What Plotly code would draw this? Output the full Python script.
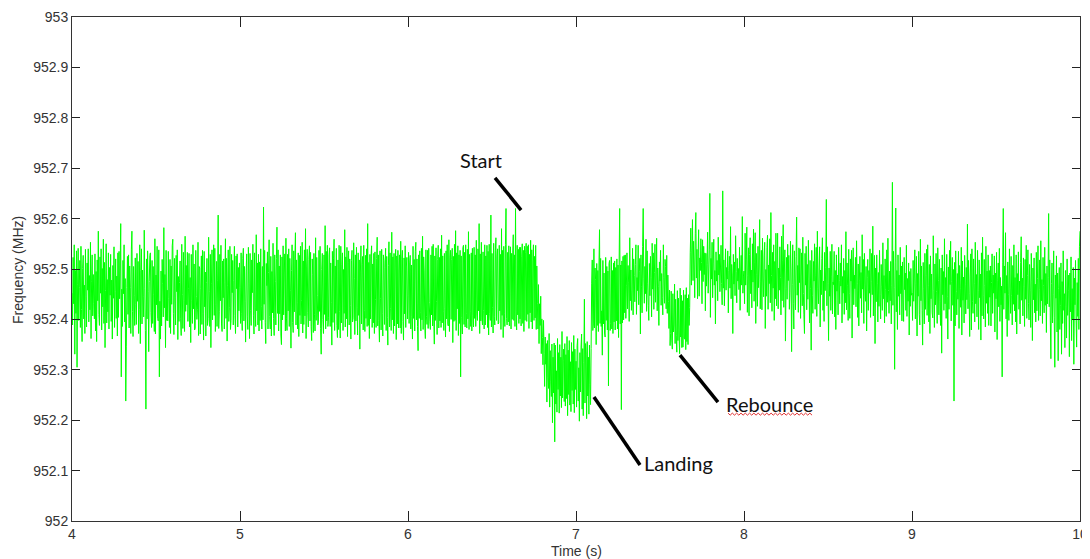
import numpy as np
import plotly.graph_objects as go

# Frequency samples, in kHz above 952 MHz, one list per second of the record
sec4 = [452, 389, 523, 431, 548, 331, 497, 412, 536, 305, 470, 541, 398, 463, 517, 384, 545, 420, 356, 501,
        527, 401, 468, 372, 539, 446, 385, 512, 458, 540, 395, 487, 419, 553, 362, 476, 528, 407, 489, 431,
        401, 530, 377, 495, 356, 518, 437, 575, 410, 388, 524, 452, 540, 379, 501, 425, 559, 392, 513, 344,
        457, 550, 393, 479, 415, 532, 381, 503, 448, 529, 396, 478, 361, 507, 442, 544, 384, 455, 520, 402,
        486, 367, 532, 404, 535, 441, 498, 590, 286, 460, 386, 517, 451, 548, 395, 481, 238, 347, 463, 525,
        410, 528, 383, 506, 463, 372, 538, 575, 416, 366, 505, 447, 388, 522, 429, 390, 531, 436, 515, 372,
        420, 548, 352, 497, 540, 391, 498, 445, 405, 577, 462, 378, 222, 520, 401, 536, 456, 336, 475, 527,
        532, 414, 384, 517, 392, 505, 450, 376, 560, 371, 488, 429, 545, 402, 397, 538, 286, 436, 361, 496,
        387, 519, 471, 405, 582, 423, 489, 344, 537, 398, 458, 397, 535, 441, 384, 519, 372, 506, 430, 546,
        559, 412, 370, 521, 444, 389, 527, 455, 538, 360, 485, 396, 473, 516, 401, 368, 549, 449, 382, 533,
        438, 376, 565, 416, 507, 429, 533, 396, 462, 531, 385, 483, 354, 529, 437, 392, 548, 421, 510, 379,
        383, 537, 446, 400, 419, 553, 368, 505, 502, 371, 461, 526, 390, 537, 412, 359, 535, 425, 494, 367,
        473, 521, 388, 402, 563, 455, 386, 529, 344, 472, 538, 399, 496, 548, 408, 541, 376, 430, 515, 386,
        478, 607, 382, 415, 529, 437, 547, 391, 376, 516, 443, 520, 381, 474, 560, 402, 521, 357, 468, 538,
        396, 423, 545, 380, 398, 529, 453, 517, 389, 477, 545, 408, 372, 526, 461, 530, 385, 503, 417, 512]
sec5 = [463, 392, 532, 411, 378, 521, 541, 397, 505, 436, 355, 496, 530, 405, 380, 543, 472, 362, 531, 418,
        388, 518, 453, 549, 407, 371, 532, 424, 386, 568, 417, 512, 389, 529, 377, 514, 398, 540, 426, 381,
        505, 399, 623, 430, 537, 394, 352, 511, 467, 534, 381, 493, 558, 406, 381, 525, 367, 495, 413, 551,
        402, 368, 528, 475, 389, 521, 583, 412, 538, 377, 506, 411, 528, 369, 350, 524, 399, 546, 409, 492,
        530, 377, 561, 401, 378, 529, 417, 540, 386, 521, 458, 343, 497, 548, 394, 374, 536, 415, 519, 572,
        389, 518, 434, 381, 532, 366, 527, 408, 545, 391, 438, 553, 373, 516, 390, 538, 407, 580, 362, 504,
        539, 413, 385, 519, 546, 397, 533, 386, 358, 520, 489, 374, 531, 409, 377, 562, 398, 523, 448, 389,
        395, 537, 416, 545, 382, 331, 499, 531, 400, 372, 528, 410, 586, 381, 535, 397, 547, 386, 403, 528,
        542, 386, 512, 434, 349, 535, 394, 520, 559, 378, 506, 412, 541, 388, 364, 518, 380, 547, 416, 363,
        545, 393, 509, 532, 378, 499, 412, 578, 385, 524, 401, 543, 366, 513, 536, 389, 520, 427, 361, 517,
        537, 395, 403, 552, 481, 370, 528, 397, 543, 424, 369, 532, 408, 518, 341, 494, 546, 391, 509, 525,
        379, 547, 418, 376, 527, 402, 540, 386, 590, 388, 513, 362, 529, 401, 525, 546, 384, 510, 393, 531,
        372, 534, 439, 384, 521, 563, 387, 528, 398, 355, 536, 441, 379, 539, 412, 367, 528, 516, 390, 503,
        541, 378, 525, 404, 349, 507, 554, 385, 532, 422, 378, 573, 399, 524, 372, 531, 387, 516, 539, 360,
        526, 391, 537, 383, 498, 528, 383, 555, 372, 519, 537, 396, 359, 522, 411, 546, 384, 504, 523, 401]
sec6 = [448, 533, 392, 512, 527, 381, 508, 406, 361, 545, 402, 519, 377, 535, 553, 399, 520, 386, 338, 528,
        402, 536, 413, 377, 541, 399, 565, 380, 524, 494, 387, 362, 538, 406, 390, 537, 382, 541, 433, 395,
        380, 528, 409, 545, 387, 549, 405, 351, 526, 398, 542, 436, 370, 519, 547, 383, 523, 397, 540, 384,
        567, 393, 526, 415, 378, 531, 422, 365, 536, 401, 548, 391, 387, 558, 376, 523, 537, 400, 519, 541,
        354, 525, 396, 549, 398, 576, 378, 532, 421, 546, 368, 528, 392, 537, 286, 526, 404, 371, 542, 547,
        390, 533, 385, 548, 412, 383, 539, 401, 574, 380, 529, 416, 386, 532, 377, 541, 408, 385, 543, 402,
        528, 386, 557, 411, 398, 540, 417, 590, 372, 530, 397, 553, 403, 389, 534, 418, 381, 548, 389, 526,
        409, 547, 384, 535, 369, 549, 412, 398, 607, 385, 531, 423, 373, 551, 406, 389, 536, 562, 398, 524,
        540, 391, 393, 547, 417, 529, 380, 580, 408, 537, 364, 545, 411, 386, 549, 620, 402, 389, 533, 395,
        546, 387, 518, 544, 381, 531, 400, 532, 568, 398, 528, 386, 620, 415, 379, 547, 409, 539, 392, 543,
        401, 543, 387, 524, 550, 392, 537, 376, 545, 398, 532, 551, 396, 545, 410, 548, 382, 529, 413, 557,
        395, 538, 381, 516, 548, 398, 525, 403, 547, 380, 506, 432, 381, 469, 352, 431, 388, 446, 332, 401,
        364, 310, 398, 332, 267, 365, 311, 352, 236, 358, 285, 263, 372, 226, 338, 276, 247, 351, 195, 325,
        254, 353, 157, 349, 232, 298, 216, 362, 261, 334, 214, 350, 248, 325, 225, 376, 244, 318, 341, 237,
        352, 228, 330, 243, 366, 209, 339, 251, 358, 230, 316, 217, 354, 259, 336, 232, 368, 215, 341, 261]
sec7 = [317, 226, 348, 362, 238, 304, 198, 334, 256, 345, 371, 222, 342, 209, 314, 440, 234, 352, 331, 203,
        356, 248, 325, 212, 349, 271, 231, 342, 472, 518, 378, 391, 540, 383, 502, 479, 350, 511, 388, 497,
        376, 506, 578, 392, 521, 386, 417, 329, 517, 391, 492, 373, 365, 523, 398, 505, 379, 496, 268, 511,
        517, 378, 392, 524, 381, 497, 372, 512, 395, 516, 379, 503, 397, 520, 381, 508, 364, 512, 620, 391,
        508, 221, 516, 393, 525, 399, 527, 413, 528, 402, 468, 532, 421, 507, 474, 396, 562, 437, 498, 418,
        458, 541, 409, 520, 487, 435, 509, 548, 410, 483, 457, 547, 429, 495, 521, 371, 528, 466, 413, 545,
        620, 482, 432, 505, 451, 559, 416, 536, 472, 428, 398, 511, 447, 525, 483, 405, 551, 460, 532, 420,
        493, 549, 434, 478, 561, 417, 502, 466, 388, 514, 476, 537, 428, 491, 443, 409, 548, 483, 432, 519,
        505, 421, 527, 412, 488, 436, 382, 458, 348, 372, 456, 359, 341, 451, 375, 389, 470, 352, 440, 368,
        335, 457, 358, 442, 369, 332, 462, 365, 448, 344, 437, 345, 458, 362, 361, 449, 340, 463, 356, 442,
        350, 449, 388, 424, 532, 581, 468, 536, 598, 477, 555, 508, 443, 571, 612, 482, 539, 441, 524, 578,
        446, 522, 497, 560, 513, 431, 558, 475, 545, 489,
        532, 417, 531, 466, 509, 573, 452, 498, 538, 650, 404, 521, 480, 553, 443, 510, 559, 468, 497, 391,
        534, 476, 517, 437, 563, 488, 529, 455, 502, 547, 471, 429, 655, 462, 518, 427, 486, 540, 458, 503,
        480, 536, 413, 497, 525, 462, 584, 441, 509, 488, 372, 529, 470, 514, 447, 566, 495, 433, 521, 476,
        501, 459, 543, 418, 492, 527, 468, 604, 452, 486]
sec8 = [496, 431, 571, 468, 518, 583, 414, 487, 542, 407, 529, 562, 451, 498, 423, 550, 474, 579, 436, 512,
        572, 392, 531, 489, 426, 545, 463, 508, 598, 421, 476, 537, 419, 561, 482, 445, 526, 553, 382, 499,
        446, 543, 567, 420, 508, 471, 560, 433, 612, 487, 416, 533, 462, 548, 398, 515, 441, 571, 427, 494,
        571, 421, 502, 458, 544, 483, 409, 565, 437, 516, 588, 424, 492, 538, 357, 461, 523, 440, 549, 477,
        527, 420, 454, 555, 496, 336, 469, 548, 431, 381, 536, 482, 419, 525, 603, 448, 507, 414, 542, 473,
        540, 402, 486, 532, 427, 563, 451, 409, 372, 531, 468, 545, 419, 509, 440, 557, 482, 393, 517, 461,
        339, 537, 448, 412, 515, 476, 550, 420, 488, 543, 406, 575, 462, 431, 502, 544, 385, 498, 449, 521,
        562, 418, 476, 396, 533, 457, 503, 638, 427, 544, 471, 358, 502, 446, 535, 418, 486, 549, 411, 474,
        469, 535, 405, 497, 380, 528, 456, 488, 409, 543, 477, 431, 512, 466, 548, 393, 485, 452, 521, 410,
        497, 433, 574, 419, 512, 468, 398, 539, 451, 402, 520, 476, 537, 363, 496, 542, 429, 488, 461, 523,
        425, 556, 471, 404, 510, 387, 478, 525, 442, 493, 413, 568, 460, 519, 392, 531, 470, 436, 505, 377,
        483, 519, 418, 497, 452, 540, 404, 475, 531, 449, 585, 407, 486, 527, 352, 502, 435, 528, 472, 395,
        493, 426, 537, 450, 401, 509, 466, 418, 552, 441, 487, 393, 520, 459, 406, 538, 434, 561, 457, 412,
        496, 437, 515, 391, 468, 672, 428, 535, 463, 301, 512, 621, 415, 497, 380, 528, 446, 488, 409, 543,
        451, 506, 397, 514, 440, 396, 523, 459, 492, 418, 547, 406, 481, 436, 512, 369, 495, 426, 501, 448]
sec9 = [452, 398, 517, 436, 482, 538, 401, 472, 525, 367, 491, 446, 535, 410, 389, 559, 437, 506, 418, 349,
        513, 462, 391, 531, 420, 487, 539, 408, 548, 468, 395, 509, 372, 526, 441, 490, 413, 403, 566, 458,
        384, 510, 429, 531, 455, 392, 542, 477, 409, 519, 436, 388, 502, 333, 528, 449, 495, 418, 560, 431,
        483, 402, 529, 445, 361, 504, 420, 537, 469, 555, 397, 475, 523, 428, 499, 238, 513, 387, 536, 455,
        409, 491, 440, 535, 382, 507, 461, 424, 543, 369, 516, 438, 484, 393, 527, 470, 411, 503, 439, 589,
        421, 517, 452, 366, 486, 530, 379, 540, 435, 412, 520, 471, 395, 553, 431, 489, 405, 537, 457, 380,
        518, 443, 490, 359, 532, 407, 563, 448, 401, 519, 467, 385, 545, 432, 496, 412, 528, 388, 497, 444,
        506, 387, 473, 530, 412, 488, 452, 526, 375, 492, 441, 533, 360, 478, 512, 425, 541, 396, 483, 429,
        466, 286, 512, 620, 420, 506, 452, 572, 401, 487, 366, 514, 450, 398, 540, 462, 412, 525, 448, 389,
        507, 430, 548, 417, 483, 395, 528, 371, 491, 449, 534, 420, 476, 391, 513, 564, 438, 482, 407, 522,
        465, 386, 519, 440, 547, 402, 487, 538, 431, 399, 509, 458, 384, 531, 476, 358, 502, 439, 522, 413,
        470, 395, 533, 417, 481, 546, 398, 459, 518, 407, 556, 437, 479, 392, 523, 467, 413, 543, 428, 491,
        374, 506, 431, 483, 610, 425, 518, 397, 322, 471, 512, 393, 449, 536, 403, 305, 488, 442, 526, 375,
        492, 318, 461, 503, 380, 428, 512, 331, 475, 392, 536, 418, 451, 344, 497, 425, 363, 520, 408, 457,
        488, 326, 492, 415, 524, 358, 461, 399, 503, 311, 482, 429, 517, 398, 345, 473, 406, 521, 380, 544, 575]

seconds = [(4, sec4), (5, sec5), (6, sec6), (7, sec7), (8, sec8), (9, sec9)]

y_ticks = [952.0, 952.1, 952.2, 952.3, 952.4, 952.5, 952.6, 952.7, 952.8, 952.9, 953.0]
y_tick_text = ["952", "952.1", "952.2", "952.3", "952.4", "952.5", "952.6", "952.7", "952.8", "952.9", "953"]
x_ticks = [4, 5, 6, 7, 8, 9, 10]

# annotation (label, text position, pointer start, pointer end) in data units
notes = [
    ("Start", (6.435, 952.716), (6.518, 952.681), (6.673, 952.617)),
    ("Landing", (7.613, 952.115), (7.107, 952.246), (7.381, 952.111)),
    ("Rebounce", (8.149, 952.232), (7.619, 952.329), (7.845, 952.236)),
]

t_all, f_all = [], []
for i, (s, vals) in enumerate(seconds):
    last = i == len(seconds) - 1
    t_all.append(np.linspace(s, s + 1, len(vals), endpoint=last))
    f_all.append(952 + np.array(vals) / 1000.0)
t = np.concatenate(t_all)
f = np.concatenate(f_all)

fig = go.Figure()
fig.add_trace(go.Scatter(x=t, y=f, mode="lines",
                         line=dict(color="#00ff00", width=1, simplify=False),
                         hoverinfo="skip", showlegend=False))

for label, (tx, ty), (x0, y0), (x1, y1) in notes:
    fig.add_shape(type="line", x0=x0, y0=y0, x1=x1, y1=y1, xref="x", yref="y",
                  line=dict(color="black", width=3.5))
    fig.add_annotation(x=tx, y=ty, xref="x", yref="y", text=label, showarrow=False,
                       font=dict(family="Lato, Open Sans, sans-serif", size=20, color="#111111"))

# red spell-check squiggle under "Rebounce"
sq_x = np.linspace(7.905, 8.405, 40)
sq_y = 952.212 + np.where(np.arange(40) % 2 == 0, 0.002, -0.002)
path = "M " + " L ".join(f"{a:.4f},{b:.4f}" for a, b in zip(sq_x, sq_y))
fig.add_shape(type="path", path=path, xref="x", yref="y",
              line=dict(color="#e03030", width=1))

axis_font = dict(family="Liberation Sans, Arial, sans-serif", size=14, color="#333333")
fig.add_annotation(text="Time (s)", xref="paper", yref="paper", x=0.5, y=-0.0595,
                   xanchor="center", yanchor="middle", showarrow=False, font=axis_font)
fig.add_annotation(text="Frequency (MHz)", xref="paper", yref="paper", x=-0.0536, y=0.498,
                   xanchor="center", yanchor="middle", textangle=-90, showarrow=False,
                   font=axis_font)

# the page places the figure 8px in from the top-left corner
fig.update_layout(
    width=1082, height=551,
    margin=dict(l=64, r=10, t=9, b=38),
    paper_bgcolor="white", plot_bgcolor="white",
    xaxis=dict(range=[4, 10], tickvals=x_ticks, ticks="inside", ticklen=10,
               tickcolor="#222222", showline=True, linecolor="#333333", linewidth=1,
               mirror="ticks", showgrid=False, zeroline=False, tickfont=axis_font,
               automargin=False),
    yaxis=dict(range=[952, 953], tickvals=y_ticks, ticktext=y_tick_text, ticks="inside",
               ticklen=8, tickcolor="#222222", showline=True, linecolor="#333333",
               linewidth=1, mirror="ticks", showgrid=False, zeroline=False,
               tickfont=axis_font, automargin=False),
)

fig.write_html("out.html")
